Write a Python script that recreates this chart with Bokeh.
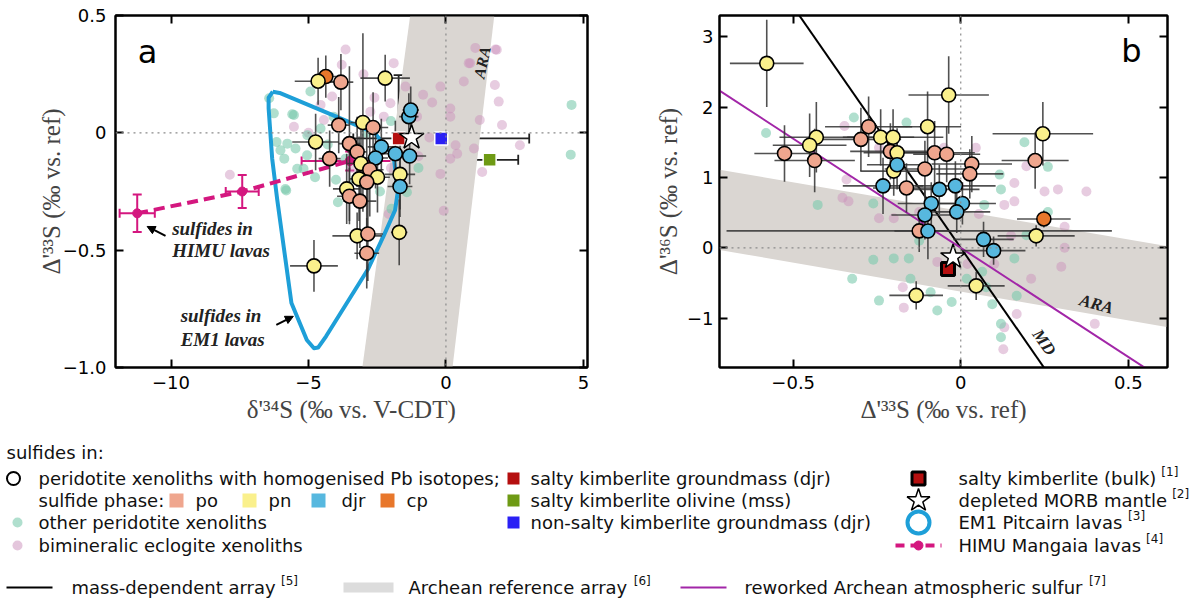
from bokeh.plotting import figure
from bokeh.models import (Range1d, LinearAxis, FixedTicker, Span, Whisker,
                          ColumnDataSource, Arrow, NormalHead, TeeHead)
from bokeh.layouts import column, row
from bokeh.embed import file_html
from bokeh.resources import INLINE
from bokeh.core.properties import value

# ---------------- DATA ----------------
phase_colors = {"po": "#EFA68E", "pn": "#FAF08C", "djr": "#57B8DF", "cp": "#E8772B"}

# panel a: sulfides in peridotite xenoliths with homogenised Pb isotopes
a_x = [-4.37, -4.65, -3.82, -2.21, -3.90, -3.02, -2.65, -4.74, -3.51, -3.23, -4.23,
       -2.35, -2.56, -1.84, -1.32, -1.35, -1.28, -3.09, -2.77, -2.49, -3.16, -2.88,
       -1.67, -1.67, -3.61, -3.51, -3.13, -3.23, -2.84, -1.70, -2.88, -4.80]
a_y = [0.240, 0.220, 0.216, 0.233, 0.033, 0.044, 0.023, -0.039, -0.046, -0.081, -0.110,
       -0.060, -0.107, -0.089, -0.099, 0.069, 0.097, -0.131, -0.157, -0.189, -0.196, -0.210,
       -0.177, -0.229, -0.239, -0.270, -0.291, -0.439, -0.431, -0.424, -0.513, -0.567]
a_xerr = [0.45, 0.85, 0.45, 0.90, 0.40, 0.45, 0.55, 0.85, 0.40, 0.35, 0.40,
          0.50, 0.45, 0.55, 0.60, 0.35, 0.30, 0.50, 0.50, 0.45, 0.35, 0.55,
          0.55, 0.45, 0.50, 0.45, 0.60, 0.90, 0.55, 0.30, 0.45, 0.87]
a_yerr = [0.09, 0.10, 0.12, 0.10, 0.12, 0.38, 0.15, 0.12, 0.33, 0.15, 0.12,
          0.12, 0.13, 0.14, 0.12, 0.10, 0.10, 0.16, 0.20, 0.15, 0.18, 0.22,
          0.15, 0.13, 0.15, 0.12, 0.20, 0.10, 0.20, 0.14, 0.15, 0.11]
a_phase = ["cp", "pn", "po", "pn", "po", "pn", "po", "pn", "po", "po", "po",
           "djr", "djr", "djr", "djr", "djr", "djr", "pn", "po", "pn", "pn", "po",
           "pn", "djr", "pn", "po", "po", "pn", "po", "pn", "po", "pn"]

# panel b
b_x = [-0.579, -0.036, -0.099, 0.245, -0.275, -0.298, -0.239, -0.202, -0.431, -0.451,
       -0.526, -0.436, -0.210, -0.190, -0.078, -0.042, 0.033, 0.027, -0.107, -0.200,
       -0.190, 0.222, -0.232, -0.162, -0.064, -0.016, -0.088, 0.005, -0.012, -0.107,
       -0.124, -0.098, 0.068, 0.098, 0.248, 0.225, 0.046, -0.133]
b_y = [2.62, 2.17, 1.72, 1.62, 1.72, 1.54, 1.57, 1.57, 1.57, 1.457,
       1.34, 1.24, 1.37, 1.35, 1.35, 1.33, 1.19, 1.05, 1.12, 1.09,
       1.18, 1.24, 0.88, 0.85, 0.83, 0.88, 0.63, 0.63, 0.51, 0.467,
       0.24, 0.238, 0.12, -0.04, 0.41, 0.17, -0.54, -0.676]
b_xerr = [0.11, 0.12, 0.10, 0.15, 0.13, 0.12, 0.10, 0.15, 0.11, 0.11,
          0.09, 0.12, 0.12, 0.10, 0.12, 0.10, 0.12, 0.10, 0.12, 0.10,
          0.09, 0.10, 0.12, 0.10, 0.12, 0.12, 0.10, 0.10, 0.10, 0.10,
          0.575, 0.10, 0.09, 0.095, 0.08, 0.115, 0.085, 0.08]
b_yerr = [0.62, 0.55, 0.50, 0.45, 0.43, 0.45, 0.40, 0.40, 0.50, 0.45,
          0.40, 0.45, 0.40, 0.35, 0.45, 0.40, 0.40, 0.35, 0.40, 0.35,
          0.35, 0.40, 0.40, 0.35, 0.35, 0.35, 0.30, 0.30, 0.30, 0.35,
          0.30, 0.40, 0.25, 0.20, 0.12, 0.15, 0.20, 0.20]
b_phase = ["pn", "pn", "pn", "pn", "po", "po", "pn", "pn", "pn", "pn",
           "po", "po", "po", "pn", "po", "po", "po", "po", "po", "pn",
           "djr", "po", "djr", "po", "djr", "djr", "djr", "djr", "djr", "djr",
           "po", "djr", "djr", "djr", "cp", "pn", "pn", "pn"]

# other peridotite xenoliths (faint green) and bimineralic eclogites (faint pink)
a_green_x = [-6.43, -5.53, -5.47, -5.88, -5.18, -5.81, -4.76, -3.93, -3.65, -1.42, -1.98,
             4.57, 4.54, -6.16, -5.04, -6.26, -5.59, -4.93, -6.02, -5.77, -5.41, -5.84,
             -5.05, -4.09, -4.56, -2.90, -2.40, -3.30, -4.30, -4.00, -2.00, -1.00]
a_green_y = [0.147, 0.076, -0.067, -0.110, -0.153, -0.246, -0.189, -0.296, -0.110, -0.253, -0.324,
             0.119, -0.093, -0.039, -0.010, 0.083, 0.079, 0.176, -0.074, -0.046, -0.153, -0.239,
             -0.096, 0.069, 0.018, 0.000, -0.250, -0.200, -0.050, -0.200, 0.050, -0.150]
a_pink_x = [-5.53, -4.56, -4.14, -7.86, -4.44, -3.65, -1.90, -0.83, -0.50, 0.16, 0.16,
            0.83, 1.07, 1.80, 0.65, 1.92, 2.04, 1.23, 0.35, 0.41, 0.16, 1.32, -0.20,
            -0.08, -2.08, -1.05, -2.02, -1.47, -0.20, -2.26, -2.75, 0.88, 2.69, 1.02,
            1.78, 1.85, -3.79, -3.00, -2.60, -5.00, -3.40, -2.00, -1.00, -0.60]
a_pink_y = [0.026, 0.119, 0.155, -0.179, 0.055, 0.355, 0.297, 0.162, 0.129, 0.104, 0.069,
            0.297, 0.362, 0.355, 0.219, 0.133, 0.033, 0.055, -0.053, -0.089, -0.110, -0.167, -0.175,
            -0.332, -0.346, 0.069, 0.126, 0.197, 0.197, 0.069, 0.090, 0.297, -0.053, -0.067,
            0.204, 0.354, 0.290, 0.250, 0.150, 0.000, -0.150, -0.150, -0.100, -0.020]

b_green_x = [-0.581, -0.319, -0.427, -0.261, -0.162, 0.190, 0.260, 0.116, 0.120, -0.324,
             -0.261, -0.244, -0.155, -0.150, -0.090, -0.070, -0.027, 0.076, 0.094, 0.120,
             0.120, 0.167, 0.160, 0.196, 0.070, 0.260, -0.124, -0.200, -0.043, 0.064, 0.018]
b_green_y = [1.63, 1.85, 0.61, 0.63, 1.78, 1.50, 1.15, 1.04, 0.83, -0.44,
             -0.17, -0.75, -0.15, -0.44, -0.63, -0.89, -0.77, -0.56, -0.80, -1.27,
             -1.08, -0.68, -0.15, 0.18, 0.61, 0.51, 0.10, -0.15, -0.34, -0.34, -0.44]
b_pink_x = [-0.347, -0.244, -0.341, -0.353, -0.335, -0.244, -0.200, -0.050, 0.045, 0.160,
            0.196, 0.290, 0.250, 0.375, 0.130, 0.160, 0.310, 0.150, 0.310, 0.300,
            0.210, 0.167, 0.130, 0.127, 0.400, -0.173, -0.170, -0.004, 0.054, -0.070,
            0.100, 0.020, -0.124]
b_pink_y = [1.73, 1.42, 0.97, 0.71, 0.66, 0.42, 0.42, 1.42, 1.42, 0.92,
            1.16, 0.83, 0.80, 0.80, 0.61, 0.66, 0.30, 0.17, 0.00, -0.27,
            -0.44, -0.94, -1.13, -1.44, -1.08, -0.56, -0.85, 0.87, 0.48, -0.20,
            -0.23, -0.23, 0.51]

# kimberlite sulfides (panel a)
kim_x = [-1.72, 1.59, -0.17]
kim_y = [-0.024, -0.115, -0.024]
kim_xerr = [0.0, 1.04, 3.20]
kim_yerr = [0.27, 0.0, 0.19]
kim_color = ["#B50F0F", "#6E9A14", "#2A20F5"]

# salty kimberlite bulk (panel b) and depleted MORB mantle
bulk_b = (-0.038, -0.30)
dmm_a = (-1.25, -0.02)
dmm_b = (-0.023, -0.13)

# HIMU Mangaia lavas (panel a)
himu_x = [-11.23, -7.41, -3.50]
himu_y = [-0.343, -0.250, -0.120]
himu_xerr = [0.64, 0.60, 1.75]
himu_yerr = [0.08, 0.07, 0.04]

# EM1 Pitcairn lavas field (panel a)
em1_x = [-6.30, -6.05, -3.90, -2.60, -1.90, -1.75, -1.85, -2.27, -2.83, -4.36,
         -4.65, -4.80, -5.06, -5.62, -6.14, -6.32, -6.45, -6.45, -6.30]
em1_y = [0.175, 0.170, 0.065, 0.000, -0.100, -0.250, -0.330, -0.440, -0.580, -0.867,
         -0.915, -0.918, -0.883, -0.725, -0.282, -0.110, 0.104, 0.150, 0.175]

# Archean reference array bands
ara_a_x = [-3.04, -1.30, 1.76, 0.24]
ara_a_y = [-1.0, 0.5, 0.5, -1.0]
ara_b_x = [-0.72, 0.62, 0.62, -0.72]
ara_b_y = [1.11, 0.02, -1.13, -0.03]

# lines in panel b
md_slope = -6.85
raas_slope = -3.1
line_x = [-0.72, 0.62]

# ---------------- STYLE ----------------
SANS = "DejaVu Sans"
SERIF = "Liberation Serif"
ERR_COLOR = "#333333"
GREEN = "#7CC9AD"
PINK = "#C98DBA"
GREY_BAND = "#DAD6D2"
EM1_BLUE = "#1E9FD8"
HIMU_MAG = "#D4177F"
PURPLE = "#A226A8"

# DejaVu Sans advance widths (em) used to place superscript references
DV = {"a": .613, "b": .635, "c": .550, "d": .635, "e": .615, "f": .352, "g": .635,
      "h": .634, "i": .278, "k": .579, "l": .278, "m": .974, "n": .634, "o": .612,
      "p": .635, "r": .411, "s": .521, "t": .392, "u": .634, "v": .592, "w": .818,
      "y": .592, " ": .318, "-": .361, "(": .390, ")": .390, "A": .684, "B": .686,
      "C": .698, "D": .770, "E": .632, "H": .752, "I": .295, "M": .863, "O": .787,
      "P": .603, "R": .695, "U": .732, "1": .636}


def text_w(s, px=18):
    return sum(DV.get(c, 0.6) for c in s) * px


def style_axes(p, xticks, yticks, xover, yover, xlabel, ylabel, ystand, ylab_stand):
    p.xaxis.ticker = FixedTicker(ticks=xticks)
    p.yaxis.ticker = FixedTicker(ticks=yticks)
    p.xaxis.major_label_overrides = xover
    p.yaxis.major_label_overrides = yover
    p.xaxis.axis_label = xlabel
    p.yaxis.axis_label = ylabel
    for ax in (p.xaxis[0], p.yaxis[0]):
        ax.axis_label_text_font = SERIF
        ax.axis_label_text_font_size = "25px"
        ax.axis_label_text_font_style = "normal"
        ax.major_label_text_font = SANS
        ax.major_label_text_font_size = "18px"
        ax.major_tick_in = 8
        ax.major_tick_out = 0
        ax.minor_tick_in = 0
        ax.minor_tick_out = 0
        ax.major_tick_line_width = 2
        ax.axis_line_width = 2
        ax.major_tick_line_color = "black"
        ax.axis_line_color = "black"
        ax.major_label_text_color = "black"
    p.xaxis.axis_label_standoff = 4
    p.yaxis.axis_label_standoff = ylab_stand
    p.xaxis.major_label_standoff = 8
    p.yaxis.major_label_standoff = ystand
    for loc, tk in (("right", yticks), ("above", xticks)):
        ax = LinearAxis(ticker=FixedTicker(ticks=tk))
        ax.major_label_overrides = {t: "" for t in tk}
        ax.major_label_standoff = 0
        ax.major_tick_in = 8
        ax.major_tick_out = 0
        ax.minor_tick_in = 0
        ax.minor_tick_out = 0
        ax.major_tick_line_width = 2
        ax.axis_line_width = 2
        p.add_layout(ax, loc)
    p.xgrid.visible = False
    p.ygrid.visible = False
    p.outline_line_color = "black"
    p.outline_line_width = 2
    p.add_layout(Span(location=0, dimension="height", line_dash="dotted",
                      line_color="#8a8a8a", line_width=1.2))
    p.add_layout(Span(location=0, dimension="width", line_dash="dotted",
                      line_color="#8a8a8a", line_width=1.2))


def errbars(p, xs, ys, xe, ye):
    p.segment(x0=[x - e for x, e in zip(xs, xe)], y0=ys,
              x1=[x + e for x, e in zip(xs, xe)], y1=ys,
              line_color=ERR_COLOR, line_width=1.6, line_alpha=0.85)
    p.segment(x0=xs, y0=[y - e for y, e in zip(ys, ye)],
              x1=xs, y1=[y + e for y, e in zip(ys, ye)],
              line_color=ERR_COLOR, line_width=1.6, line_alpha=0.85)


# ---------------- PANEL A ----------------
pa = figure(width=600, height=433, x_range=Range1d(-12.02, 5.15), y_range=Range1d(-1.0, 0.5),
            output_backend="svg", toolbar_location=None,
            min_border_left=115, min_border_right=13, min_border_top=15, min_border_bottom=66)
style_axes(pa, [-10, -5, 0, 5], [-1.0, -0.5, 0, 0.5],
           {-10: "−10", -5: "−5", 0: "0", 5: "5"},
           {-1.0: "−1.0", -0.5: "−0.5", 0: "0", 0.5: "0.5"},
           "δ'³⁴S (‰ vs. V-CDT)", "Δ'³³S (‰ vs. ref)", 9, -5)

pa.patch(ara_a_x, ara_a_y, fill_color=GREY_BAND, line_color=None)
pa.scatter(a_pink_x, a_pink_y, size=10, fill_color=PINK, fill_alpha=0.45, line_color=None)
pa.scatter(a_green_x, a_green_y, size=10, fill_color=GREEN, fill_alpha=0.6, line_color=None)
pa.line(em1_x, em1_y, line_color=EM1_BLUE, line_width=4, line_join="round")

# HIMU
pa.line(himu_x, himu_y, line_color=HIMU_MAG, line_width=4, line_dash="11 6")
hsrc = ColumnDataSource(dict(x=himu_x, y=himu_y,
                             xl=[x - e for x, e in zip(himu_x, himu_xerr)],
                             xu=[x + e for x, e in zip(himu_x, himu_xerr)],
                             yl=[y - e for y, e in zip(himu_y, himu_yerr)],
                             yu=[y + e for y, e in zip(himu_y, himu_yerr)]))
for dim, base, lo, up in (("width", "y", "xl", "xu"), ("height", "x", "yl", "yu")):
    pa.add_layout(Whisker(source=hsrc, base=base, lower=lo, upper=up, dimension=dim,
                          line_color=HIMU_MAG, line_width=2,
                          upper_head=TeeHead(size=9, line_color=HIMU_MAG, line_width=2),
                          lower_head=TeeHead(size=9, line_color=HIMU_MAG, line_width=2)))
pa.scatter(himu_x, himu_y, size=9, fill_color=HIMU_MAG, line_color=HIMU_MAG)

errbars(pa, a_x, a_y, a_xerr, a_yerr)

ksrc = ColumnDataSource(dict(x=kim_x, y=kim_y,
                             xl=[x - e for x, e in zip(kim_x, kim_xerr)],
                             xu=[x + e for x, e in zip(kim_x, kim_xerr)],
                             yl=[y - e for y, e in zip(kim_y, kim_yerr)],
                             yu=[y + e for y, e in zip(kim_y, kim_yerr)]))
for dim, base, lo, up in (("width", "y", "xl", "xu"), ("height", "x", "yl", "yu")):
    pa.add_layout(Whisker(source=ksrc, base=base, lower=lo, upper=up, dimension=dim,
                          line_color="#222222", line_width=1.8,
                          upper_head=TeeHead(size=10, line_color="#222222", line_width=1.8),
                          lower_head=TeeHead(size=10, line_color="#222222", line_width=1.8)))

pa.scatter(a_x, a_y, size=14, fill_color=[phase_colors[c] for c in a_phase],
           line_color="black", line_width=1.6)
pa.scatter(kim_x, kim_y, marker="square", size=13, fill_color=kim_color,
           line_color="white", line_width=1.5)
pa.scatter([dmm_a[0]], [dmm_a[1]], marker="star", size=26, fill_color="white",
           line_color="black", line_width=1.5)

pa.text(x=[-10.85], y=[0.345], text=["a"], text_font=value(SANS), text_font_size="32px",
        text_align="center", text_baseline="middle")
pa.text(x=[-9.96, -9.96], y=[-0.408, -0.502], text=["sulfides in", "HIMU lavas"],
        text_font=value(SERIF), text_font_size="19px", text_font_style="bold italic",
        text_align="left", text_baseline="middle", text_color="#222222")
pa.text(x=[-9.65, -9.65], y=[-0.777, -0.88], text=["sulfides in", "EM1 lavas"],
        text_font=value(SERIF), text_font_size="19px", text_font_style="bold italic",
        text_align="left", text_baseline="middle", text_color="#222222")
pa.text(x=[1.32], y=[0.30], text=["ARA"], angle=78, angle_units="deg",
        text_font=value(SERIF), text_font_size="16px", text_font_style="bold italic",
        text_align="center", text_baseline="middle", text_color="#222222")
pa.add_layout(Arrow(end=NormalHead(size=8, fill_color="black", line_color="black"),
                    x_start=-10.2, y_start=-0.439, x_end=-10.87, y_end=-0.399,
                    line_width=2, line_color="black"))
pa.add_layout(Arrow(end=NormalHead(size=8, fill_color="black", line_color="black"),
                    x_start=-6.17, y_start=-0.818, x_end=-5.55, y_end=-0.782,
                    line_width=2, line_color="black"))

# ---------------- PANEL B ----------------
pb = figure(width=592, height=433, x_range=Range1d(-0.72, 0.617), y_range=Range1d(-1.7, 3.3),
            output_backend="svg", toolbar_location=None,
            min_border_left=119, min_border_right=25, min_border_top=15, min_border_bottom=66)
style_axes(pb, [-0.5, 0, 0.5], [-1, 0, 1, 2, 3],
           {-0.5: "−0.5", 0: "0", 0.5: "0.5"},
           {-1: "−1", 0: "0", 1: "1", 2: "2", 3: "3"},
           "Δ'³³S (‰ vs. ref)", "Δ'³⁶S (‰ vs. ref)", 6, 2)

pb.patch(ara_b_x, ara_b_y, fill_color=GREY_BAND, line_color=None)
pb.scatter(b_pink_x, b_pink_y, size=10, fill_color=PINK, fill_alpha=0.45, line_color=None)
pb.scatter(b_green_x, b_green_y, size=10, fill_color=GREEN, fill_alpha=0.6, line_color=None)
pb.line(line_x, [md_slope * x for x in line_x], line_color="black", line_width=2)
pb.line(line_x, [raas_slope * x for x in line_x], line_color=PURPLE, line_width=2)
errbars(pb, b_x, b_y, b_xerr, b_yerr)
pb.scatter(b_x, b_y, size=14, fill_color=[phase_colors[c] for c in b_phase],
           line_color="black", line_width=1.6)
pb.scatter([bulk_b[0]], [bulk_b[1]], marker="square", size=13, fill_color="#B50F0F",
           line_color="black", line_width=3)
pb.scatter([dmm_b[0]], [dmm_b[1]], marker="star", size=26, fill_color="white",
           line_color="black", line_width=1.5)
pb.text(x=[0.509], y=[2.8], text=["b"], text_font=value(SANS), text_font_size="32px",
        text_align="center", text_baseline="middle")
pb.text(x=[0.405], y=[-0.80], text=["ARA"], angle=-15, angle_units="deg",
        text_font=value(SERIF), text_font_size="17px", text_font_style="bold italic",
        text_align="center", text_baseline="middle", text_color="#222222")
pb.text(x=[0.249], y=[-1.343], text=["MD"], angle=-55, angle_units="deg",
        text_font=value(SERIF), text_font_size="17px", text_font_style="bold italic",
        text_align="center", text_baseline="middle", text_color="#222222")

# ---------------- LEGEND ----------------
lg = figure(width=1192, height=166, x_range=Range1d(0, 1192), y_range=Range1d(599, 433),
            output_backend="svg", toolbar_location=None, x_axis_type=None, y_axis_type=None,
            min_border=0, outline_line_color=None)
lg.xgrid.visible = False
lg.ygrid.visible = False
R = [452, 478, 500, 522, 545, 587]


def ltext(xs, ys, ts, size="18px", dy=0):
    lg.text(x=xs, y=[y + dy for y in ys], text=ts, text_font=value(SANS), text_font_size=size,
            text_align="left", text_baseline="middle", text_color="#111111")


ltext([6, 38, 38, 38, 38], [R[0], R[1], R[2], R[3], R[4]],
      ["sulfides in:", "peridotite xenoliths with homogenised Pb isotopes;", "sulfide phase:",
       "other peridotite xenoliths", "bimineralic eclogite xenoliths"])
lg.scatter([13], [R[1]], size=13, fill_color=None, line_color="black", line_width=2)
lg.scatter([176, 249, 318, 387], [R[2]] * 4, marker="square", size=14,
           fill_color=[phase_colors[c] for c in ["po", "pn", "djr", "cp"]], line_color=None)
ltext([195, 268, 341, 406], [R[2]] * 4, ["po", "pn", "djr", "cp"])
lg.scatter([17], [R[3]], size=10, fill_color=GREEN, fill_alpha=0.6, line_color=None)
lg.scatter([17], [R[4]], size=10, fill_color=PINK, fill_alpha=0.5, line_color=None)

lg.scatter([513, 513, 513], [R[1], R[2], R[3]], marker="square", size=12,
           fill_color=kim_color, line_color=None)
ltext([530, 530, 530], [R[1], R[2], R[3]],
      ["salty kimberlite groundmass (djr)", "salty kimberlite olivine (mss)",
       "non-salty kimberlite groundmass (djr)"])

lg.scatter([918], [R[1]], marker="square", size=13, fill_color="#B50F0F",
           line_color="black", line_width=3)
lg.scatter([918], [R[2]], marker="star", size=24, fill_color="white",
           line_color="black", line_width=1.5)
lg.scatter([918], [R[3]], size=22, fill_color=None, line_color=EM1_BLUE, line_width=4)
lg.line([895, 941], [R[4], R[4]], line_color=HIMU_MAG, line_width=4, line_dash="9 6")
lg.scatter([918], [R[4]], size=9, fill_color=HIMU_MAG, line_color=HIMU_MAG)
right_labels = ["salty kimberlite (bulk)", "depleted MORB mantle", "EM1 Pitcairn lavas",
                "HIMU Mangaia lavas"]
ltext([958] * 4, [R[1], R[2], R[3], R[4]], right_labels)

lg.line([6, 52], [R[5], R[5]], line_color="black", line_width=2)
lg.quad(left=[343], right=[393], top=[R[5] - 5], bottom=[R[5] + 5], fill_color="#DCDCDC",
        line_color=None)
lg.line([680, 726], [R[5], R[5]], line_color=PURPLE, line_width=2)
bottom_x = [71, 408, 744]
bottom_labels = ["mass-dependent array", "Archean reference array",
                 "reworked Archean atmospheric sulfur"]
ltext(bottom_x, [R[5]] * 3, bottom_labels)

refs = ["[1]", "[2]", "[3]", "[4]", "[5]", "[6]", "[7]"]
ref_x = [958 + text_w(s) + 5 for s in right_labels] + \
        [x0 + text_w(s) + 5 for x0, s in zip(bottom_x, bottom_labels)]
ltext(ref_x, [R[1], R[2], R[3], R[4], R[5], R[5], R[5]], refs, size="12px", dy=-7)

layout = column(row(pa, pb), lg)
open("out.html", "w").write(file_html(layout, INLINE))
